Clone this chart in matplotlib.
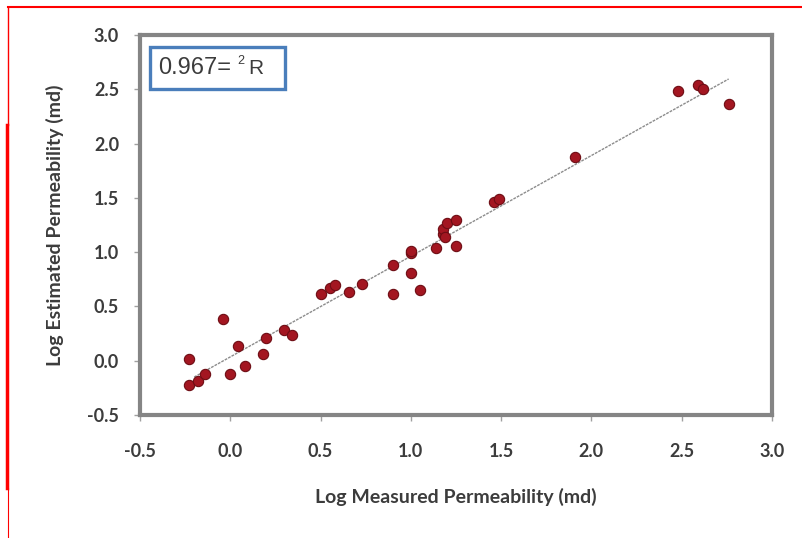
import numpy as np
import matplotlib.pyplot as plt
from matplotlib.lines import Line2D
from matplotlib.patches import Rectangle

# log measured vs log estimated permeability (md)
measured = [-0.23, -0.23, -0.18, -0.14, -0.04, 0.00, 0.04, 0.08, 0.18, 0.20,
            0.30, 0.34, 0.50, 0.55, 0.58, 0.66, 0.73, 0.90, 0.90, 1.00,
            1.00, 1.00, 1.05, 1.14, 1.18, 1.18, 1.19, 1.20, 1.25, 1.25,
            1.46, 1.49, 1.91, 2.48, 2.59, 2.62, 2.76]
estimated = [0.02, -0.22, -0.19, -0.12, 0.38, -0.12, 0.14, -0.05, 0.06, 0.21,
             0.28, 0.24, 0.61, 0.67, 0.70, 0.63, 0.71, 0.88, 0.61, 0.99,
             1.01, 0.81, 0.65, 1.04, 1.17, 1.21, 1.14, 1.27, 1.30, 1.06,
             1.46, 1.49, 1.88, 2.48, 2.54, 2.50, 2.36]
r2_value = "0.967="
ticks = [-0.5, 0.0, 0.5, 1.0, 1.5, 2.0, 2.5, 3.0]

x = np.array(measured)
y = np.array(estimated)

fig = plt.figure(figsize=(8.03, 5.38), dpi=100)
ax = fig.add_axes([140 / 803, 1 - 415 / 538, 632 / 803, 380 / 538])

ax.scatter(x, y, s=55, color="#a31621", edgecolors="#6e0d14", linewidths=0.8, zorder=3)

# linear trend line
k, b = np.polyfit(x, y, 1)
xl = np.array([x.min() + 0.03, x.max()])
ax.plot(xl, k * xl + b, color="#8c8c8c", lw=1.0, ls=(0, (2, 0.8)), zorder=2)

ax.set_xlim(-0.5, 3.0)
ax.set_ylim(-0.5, 3.0)
ax.set_xticks(ticks)
ax.set_yticks(ticks)
ax.set_xticklabels([f"{t:.1f}" for t in ticks])
ax.set_yticklabels([f"{t:.1f}" for t in ticks])

for sp in ax.spines.values():
    sp.set_color("#858585")
    sp.set_linewidth(3)

ax.tick_params(axis="both", direction="out", length=4, width=1, color="#a0a0a0",
               labelsize=13, labelcolor="#3c3c3c")
ax.tick_params(axis="x", pad=16)
ax.tick_params(axis="y", pad=11)
for lab in ax.get_xticklabels() + ax.get_yticklabels():
    lab.set_fontfamily("Lato")
    lab.set_fontweight("bold")

ax.set_xlabel("Log Measured Permeability (md)", fontsize=14, fontweight="bold",
              family="Lato", color="#3c3c3c", labelpad=20)
ax.set_ylabel("Log Estimated Permeability (md)", fontsize=14, fontweight="bold",
              family="Lato", color="#3c3c3c", labelpad=17)

# R^2 box (the source writes it right-to-left: "0.967= ² R")
ax.add_patch(Rectangle((0.016, 0.858), 0.213, 0.11, transform=ax.transAxes,
                       fc="white", ec="#4a7ebb", lw=2.4, zorder=4))
t1 = ax.text(0.029, 0.913, r2_value, transform=ax.transAxes, fontsize=17,
             family="Liberation Sans", color="#3c3c3c", va="center", ha="left",
             zorder=5)
t2 = ax.annotate("2", xy=(1, 0.55), xycoords=t1, xytext=(4, 0),
                 textcoords="offset points", fontsize=9, family="Liberation Sans",
                 color="#3c3c3c", va="bottom", ha="left", zorder=5)
ax.annotate("R", xy=(1, 0.5), xycoords=(t2, t1), xytext=(3, 0),
            textcoords="offset points", fontsize=15, family="Liberation Sans",
            color="#3c3c3c", va="center", ha="left", zorder=5)

# red frame lines around the picture
fig.add_artist(Line2D([8 / 803, 1], [1 - 7 / 538] * 2, color="red", lw=1.5,
                      transform=fig.transFigure))
fig.add_artist(Line2D([8 / 803] * 2, [1 - 7 / 538, 1 - 125 / 538], color="red",
                      lw=1.0, transform=fig.transFigure))
fig.add_artist(Line2D([7 / 803] * 2, [1 - 125 / 538, 1 - 488 / 538], color="red",
                      lw=2.5, transform=fig.transFigure))
fig.add_artist(Line2D([8 / 803] * 2, [1 - 488 / 538, 0], color="red",
                      lw=0.8, transform=fig.transFigure))

fig.savefig("out.png", dpi=100)
